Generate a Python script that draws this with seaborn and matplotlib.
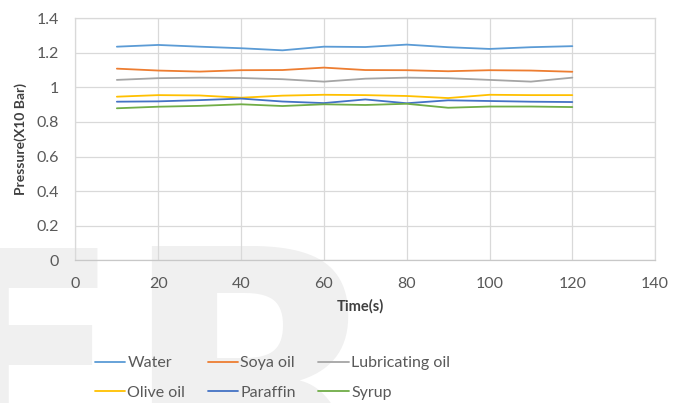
import matplotlib
matplotlib.use("Agg")
import matplotlib.pyplot as plt
import seaborn as sns
import pandas as pd

# Pressure readings over time for six fluids
time_s = [10, 20, 30, 40, 50, 60, 70, 80, 90, 100, 110, 120]
water = [1.235, 1.245, 1.235, 1.226, 1.214, 1.235, 1.233, 1.247, 1.232, 1.222, 1.232, 1.238]
soya_oil = [1.108, 1.097, 1.091, 1.099, 1.100, 1.114, 1.100, 1.099, 1.093, 1.099, 1.097, 1.090]
lubricating_oil = [1.043, 1.053, 1.056, 1.054, 1.047, 1.033, 1.050, 1.056, 1.053, 1.043, 1.033, 1.056]
olive_oil = [0.946, 0.955, 0.953, 0.940, 0.952, 0.957, 0.955, 0.950, 0.938, 0.957, 0.955, 0.955]
paraffin = [0.917, 0.919, 0.926, 0.935, 0.918, 0.909, 0.930, 0.908, 0.925, 0.921, 0.917, 0.915]
syrup = [0.879, 0.888, 0.893, 0.902, 0.892, 0.902, 0.898, 0.905, 0.882, 0.889, 0.889, 0.886]

series_names = ["Water", "Soya oil", "Lubricating oil", "Olive oil", "Paraffin", "Syrup"]
series_values = [water, soya_oil, lubricating_oil, olive_oil, paraffin, syrup]
series_colors = ["#5B9BD5", "#ED7D31", "#A5A5A5", "#FFC000", "#4472C4", "#70AD47"]

x_ticks = [0, 20, 40, 60, 80, 100, 120, 140]
y_ticks = [0, 0.2, 0.4, 0.6, 0.8, 1.0, 1.2, 1.4]
y_tick_labels = ["0", "0.2", "0.4", "0.6", "0.8", "1", "1.2", "1.4"]

rows = []
for name, vals in zip(series_names, series_values):
    for t, v in zip(time_s, vals):
        rows.append({"Time(s)": t, "Pressure": v, "Fluid": name})
df = pd.DataFrame(rows)

sns.set_theme(style="white")
plt.rcParams["font.family"] = ["Lato", "DejaVu Sans"]

fig = plt.figure(figsize=(6.86, 4.03), dpi=100)
fig.patch.set_facecolor("white")

# faint background lettering
fig.text(-0.102, -0.12, "F", fontsize=200, fontweight="bold",
         family="DejaVu Sans", color="#f0f0f0", zorder=-5,
         ha="left", va="baseline")
fig.text(0.173, -0.236, "R", fontsize=250, fontweight="bold",
         family="DejaVu Sans", color="#f0f0f0", zorder=-5,
         ha="left", va="baseline")

ax = fig.add_axes([0.110, 0.354, 0.845, 0.601])
ax.set_facecolor("none")

sns.lineplot(data=df, x="Time(s)", y="Pressure", hue="Fluid",
             hue_order=series_names, palette=series_colors,
             linewidth=1.3, ax=ax, legend=False, estimator=None, sort=False)

ax.set_xlim(0, 140)
ax.set_ylim(0, 1.4)
ax.set_xticks(x_ticks)
ax.set_yticks(y_ticks)
ax.set_yticklabels(y_tick_labels)
ax.grid(True, color="#d9d9d9", linewidth=0.9)
ax.set_axisbelow(True)
for side in ["left", "right", "top", "bottom"]:
    ax.spines[side].set_visible(True)
    ax.spines[side].set_color("#d9d9d9")
    ax.spines[side].set_linewidth(0.9)
ax.spines["bottom"].set_color("#c8c8c8")
ax.tick_params(axis="both", length=0, labelsize=11.5, colors="#595959")
ax.tick_params(axis="x", pad=12)
ax.tick_params(axis="y", pad=12)

ax.set_xlabel("Time(s)", fontsize=10.5, fontweight="bold", color="#404040")
ax.set_ylabel("Pressure(X10 Bar)", fontsize=10, fontweight="bold", color="#404040")
ax.xaxis.set_label_coords(0.491, -0.16)
ax.yaxis.set_label_coords(-0.084, 0.5)

# legend fills column by column, so order entries to read row by row
order = [0, 3, 1, 4, 2, 5]
handles = [plt.Line2D([0], [0], color=series_colors[i], lw=1.3) for i in order]
labels = [series_names[i] for i in order]
leg = fig.legend(handles, labels, ncol=3, loc="center",
                 bbox_to_anchor=(0.397, 0.062), frameon=False,
                 fontsize=11.5, handlelength=1.9, handletextpad=0.15,
                 columnspacing=1.4, labelspacing=0.95)
for t in leg.get_texts():
    t.set_color("#595959")

fig.savefig("out.png", dpi=100, facecolor="white")
